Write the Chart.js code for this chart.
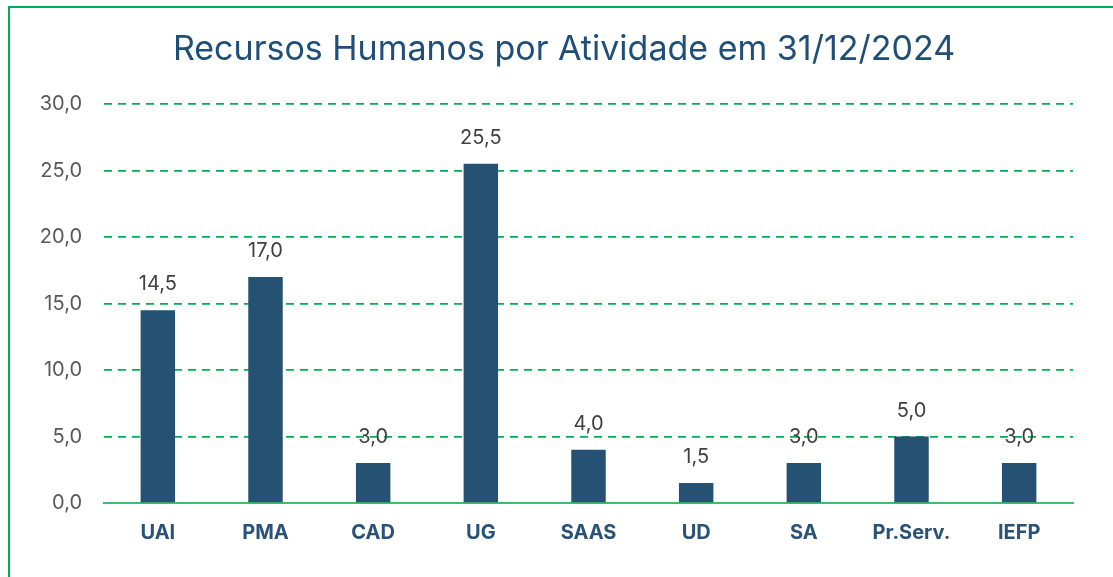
<html>
<head>
<style>
  html, body { margin: 0; padding: 0; background: #fff; overflow: hidden; }
  #wrap { position: relative; width: 1113px; height: 577px; }
  #frame { position: absolute; left: 8px; top: 6px; width: 1200px; height: 700px; border: 2px solid #00b050; box-sizing: border-box; pointer-events: none; }
</style>
</head>
<body>
<div id="wrap">
  <canvas id="myChart" width="1113" height="577"></canvas>
  <div id="frame"></div>
</div>
<script src="https://cdn.jsdelivr.net/npm/chart.js"></script>
<script>
const labels = ['UAI', 'PMA', 'CAD', 'UG', 'SAAS', 'UD', 'SA', 'Pr.Serv.', 'IEFP'];
const values = [14.5, 17.0, 3.0, 25.5, 4.0, 1.5, 3.0, 5.0, 3.0];
const yTicks = [0, 5, 10, 15, 20, 25, 30];
const titleText = 'Recursos Humanos por Atividade em 31/12/2024';

const fmt = v => Number(v).toFixed(1).replace('.', ',');
const fontName = 'Inter, "Liberation Sans", sans-serif';

// value labels above each bar + title centred over the frame
const valueLabels = {
  id: 'valueLabels',
  afterDatasetsDraw(chart) {
    const ctx = chart.ctx;
    const meta = chart.getDatasetMeta(0);
    ctx.save();
    ctx.font = '20px ' + fontName;
    ctx.fillStyle = '#404040';
    ctx.textAlign = 'center';
    ctx.textBaseline = 'middle';
    meta.data.forEach((bar, i) => {
      ctx.fillText(fmt(values[i]), bar.x, bar.y - 26);
    });
    ctx.font = '34px ' + fontName;
    ctx.fillStyle = '#1f4e79';
    ctx.fillText(titleText, 564, 50);
    ctx.restore();
  }
};

const data = {
  labels: labels,
  datasets: [{
    data: values,
    backgroundColor: '#255173',
    borderColor: '#255173',
    categoryPercentage: 1.0,
    barPercentage: 0.32,
  }]
};

const config = {
  type: 'bar',
  data: data,
  plugins: [valueLabels],
  options: {
    responsive: false,
    animation: false,
    layout: { padding: { left: 0, right: 40, top: 104, bottom: 0 } },
    plugins: {
      legend: { display: false },
      tooltip: { enabled: false },
      title: { display: false }
    },
    scales: {
      x: {
        grid: { display: false, drawTicks: false },
        border: { display: true, color: '#3cbf6a', width: 2 },
        ticks: {
          color: '#2a5278',
          font: { family: fontName, size: 20, weight: 'bold' },
          padding: 18
        },
        afterFit(scale) { scale.height = 74; }
      },
      y: {
        min: 0,
        max: 30,
        afterBuildTicks(scale) { scale.ticks = yTicks.map(v => ({ value: v })); },
        grid: {
          color: '#00b050',
          lineWidth: 1.7,
          drawTicks: false
        },
        border: { display: false, dash: [8, 6] },
        ticks: {
          color: '#595959',
          font: { family: fontName, size: 20 },
          padding: 22,
          callback: v => fmt(v)
        },
        afterFit(scale) { scale.width = 104; }
      }
    }
  }
};

const myChart = new Chart(document.getElementById('myChart'), config);
</script>
</body>
</html>
